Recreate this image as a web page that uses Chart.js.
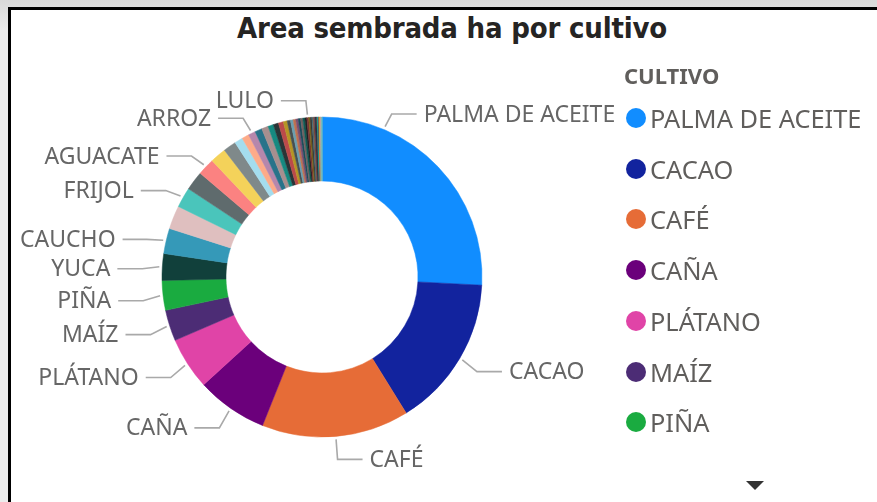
<!DOCTYPE html>
<html>
<head>
<meta charset="utf-8">
<script src="https://cdn.jsdelivr.net/npm/chart.js@4.4.0/dist/chart.umd.min.js"></script>
<style>
  html,body{margin:0;padding:0;width:877px;height:502px;overflow:hidden;
    background:linear-gradient(#d9d9d9,#ececec 30px);font-family:"Segoe UI","Noto Sans",sans-serif}
  #panel{position:absolute;left:8px;top:7px;width:920px;height:520px;background:#fff;
    border-left:3px solid #000;border-top:3px solid #000}
  #title{position:absolute;left:0;top:11px;width:904px;text-align:center;
    font:bold 29px "DejaVu Sans Condensed",sans-serif;color:#252423;letter-spacing:-0.2px}
  #c{position:absolute;left:0;top:0}
  .lg-title{position:absolute;left:624px;top:60px;font-weight:700;font-size:22px;line-height:30px;color:#605E5C}
  .lg-item{position:absolute;left:626px;height:34px;display:flex;align-items:center;font-size:25.4px;color:#605E5C}
  .lg-dot{width:20px;height:20px;border-radius:50%;margin-right:4px}
  #more{position:absolute;left:746px;top:481px;width:0;height:0;
    border-left:9px solid transparent;border-right:9px solid transparent;border-top:9px solid #333}
</style>
</head>
<body>
<div id="panel"></div>
<div id="title">Area sembrada ha por cultivo</div>
<canvas id="c" width="877" height="502"></canvas>
<div id="legend"></div>
<div id="more"></div>
<script>
// cultivos ordenados de mayor a menor area sembrada
const cultivos = [
  'PALMA DE ACEITE','CACAO','CAFÉ','CAÑA','PLÁTANO','MAÍZ','PIÑA','YUCA','CAUCHO','CÍTRICOS',
  'FRIJOL','PAPA','AGUACATE','MANGO','TABACO','SOYA','MARACUYÁ','ARROZ','GUAYABA','ÑAME',
  'ARRACACHA','AHUYAMA','FIQUE','PATILLA','MORA','TOMATE','CEBOLLA','ALGODÓN','AJÍ','GULUPA',
  'GRANADILLA','TOMATE DE ÁRBOL','LULO','PIMENTÓN','MELÓN','BANANO','COCO','HABICHUELA','SORGO','AHUYAMÍN',
  'ARVEJA','ZANAHORIA','PAPAYA','LIMÓN','NARANJA','MANDARINA','CURUBA','BOROJÓ','CHONTADURO','FEIJOA','UCHUVA'
];
// area sembrada (ha)
const areaHa = [
  93000,55400,53600,25900,19000,11300,10800,9700,9200,8500,
  7300,7000,6200,5800,4700,3000,2600,2600,2600,2400,
  2000,1900,1800,1400,1200,1000,950,900,850,800,
  750,700,650,600,550,500,450,400,350,300,
  280,250,220,200,170,150,120,100,80,60,40
];
const colores = [
  '#118DFF','#12239E','#E66C37','#6B007B','#E044A7','#4C2C75','#1AAB40','#11403B','#3599B8','#DFBFBF',
  '#4AC5BB','#5F6B6D','#FB8281','#F4D25A','#7F898A','#A4DDEE','#FDAB89','#B687AC','#28738A','#A78F8F',
  '#168980','#293537','#BB4A4A','#B59525','#475052','#6A9FB0','#BD7150','#7B4F71','#1B4D5C','#706060',
  '#0F5C55','#1C2325','#7D3231','#796419','#303637','#476A75','#7E4B36','#52354C','#0D262E','#544848',
  '#01B8AA','#374649','#FD625E','#F2C80F','#5F6B6D','#8AD4EB','#FE9666','#A66999','#3599B8','#DFBFBF','#4AC5BB'
];
// rebanadas con etiqueta visible
const etiquetas = ['PALMA DE ACEITE','CACAO','CAFÉ','CAÑA','PLÁTANO','MAÍZ','PIÑA','YUCA','CAUCHO','FRIJOL','AGUACATE','ARROZ','LULO'];
const anclaEtiqueta = { 'PALMA DE ACEITE': 0.245 };
const itemsLeyenda = 7;

const sliceLabels = {
  id:'sliceLabels',
  afterDraw(chart){
    const ctx = chart.ctx;
    const arcs = chart.getDatasetMeta(0).data;
    ctx.save();
    ctx.font = '23px "Segoe UI","Noto Sans",sans-serif';
    ctx.textBaseline = 'middle';
    ctx.strokeStyle = '#a9a9a9';
    ctx.lineWidth = 1.6;
    ctx.fillStyle = '#666';
    etiquetas.forEach(name=>{
      const i = cultivos.indexOf(name);
      const a = arcs[i].getProps(['x','y','startAngle','endAngle','outerRadius'], true);
      const f = anclaEtiqueta[name] ?? 0.5;
      const ang = a.startAngle + (a.endAngle - a.startAngle) * f;
      const dx = Math.cos(ang), dy = Math.sin(ang);
      const R = a.outerRadius;
      const right = dx >= 0, s = right ? 1 : -1;
      const w = ctx.measureText(name).width;
      const ex = a.x + (R + 20) * dx;
      const ly = a.y + (R + 20) * dy + 3;
      let edge = ex + s * 32;
      if (!right && edge - w < 20) edge = 20 + w;
      const lineEnd = edge - s * 7;
      ctx.beginPath();
      ctx.moveTo(a.x + (R + 3) * dx, a.y + (R + 3) * dy);
      ctx.lineTo(ex, ly);
      ctx.lineTo(lineEnd, ly);
      ctx.stroke();
      ctx.textAlign = right ? 'left' : 'right';
      ctx.fillText(name, edge, ly + 1);
    });
    ctx.restore();
  }
};

const chart = new Chart(document.getElementById('c'), {
  type:'doughnut',
  data:{
    labels:cultivos,
    datasets:[{ data:areaHa, backgroundColor:colores, borderColor:colores, borderWidth:0.5 }]
  },
  options:{
    responsive:false, animation:false,
    radius:160, cutout:'60%',
    layout:{ padding:{ left:0, right:233, top:60, bottom:8 } },
    plugins:{ legend:{ display:false }, tooltip:{ enabled:false } }
  },
  plugins:[sliceLabels]
});

// leyenda con los primeros elementos, como en el visual original
const lg = document.getElementById('legend');
lg.innerHTML = '<div class="lg-title">CULTIVO</div>' +
  Chart.overrides.doughnut.plugins.legend.labels.generateLabels(chart)
    .slice(0, itemsLeyenda)
    .map((it, k)=>`<div class="lg-item" style="top:${Math.round(118 + k*50.7 - 17)}px">
      <span class="lg-dot" style="background:${it.fillStyle}"></span>${it.text}</div>`).join('');
</script>
</body>
</html>
